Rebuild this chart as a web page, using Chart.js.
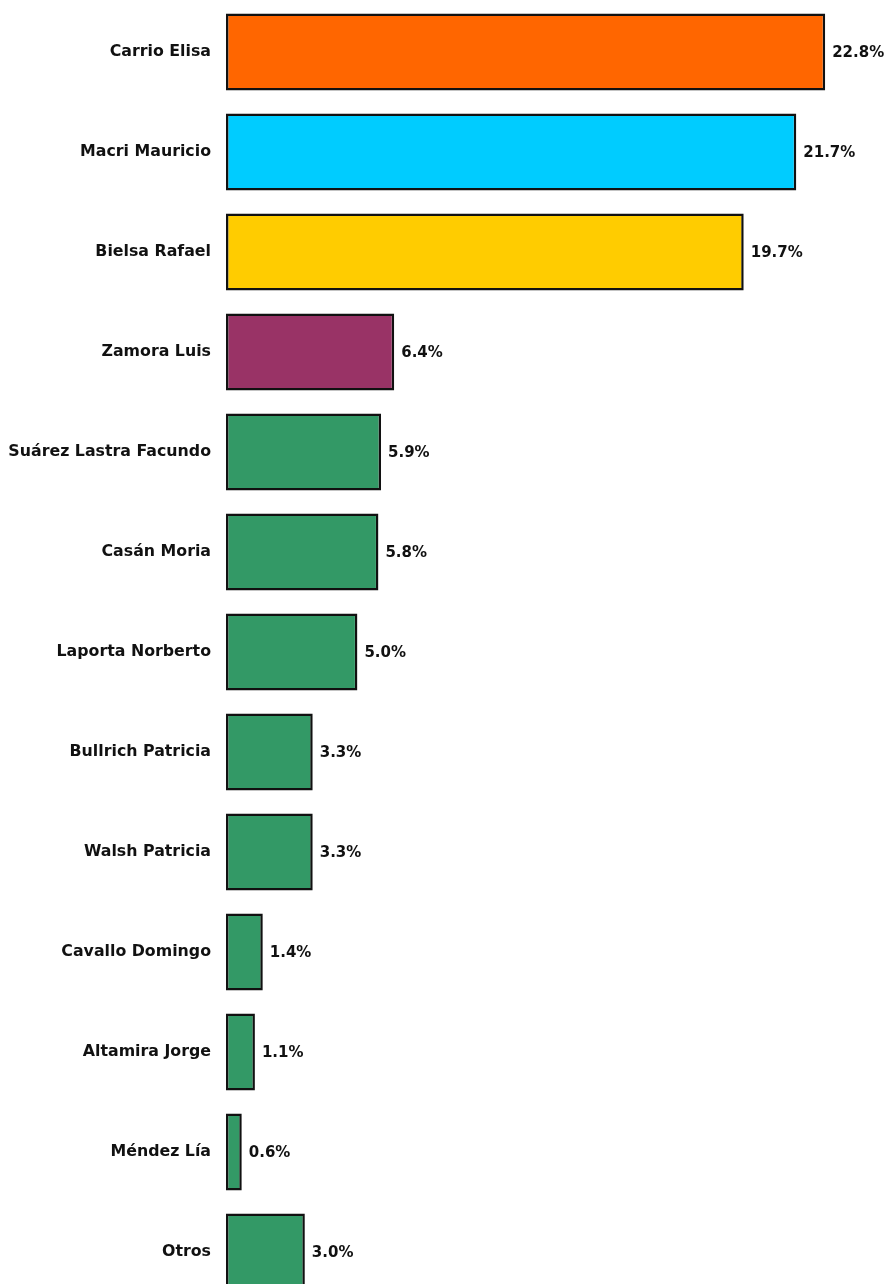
<!DOCTYPE html>
<html><head><meta charset="utf-8">
<script src="https://cdn.jsdelivr.net/npm/chart.js@4"></script>
<style>
html,body{margin:0;padding:0;background:#fff;overflow:hidden;}
canvas{display:block;}
</style></head>
<body>
<canvas id="c" width="890" height="1310" style="width:890px;height:1310px"></canvas>
<script>
const categories = ["Carrio Elisa","Macri Mauricio","Bielsa Rafael","Zamora Luis","Suárez Lastra Facundo","Casán Moria","Laporta Norberto","Bullrich Patricia","Walsh Patricia","Cavallo Domingo","Altamira Jorge","Méndez Lía","Otros"];
const values = [22.8,21.7,19.7,6.4,5.9,5.8,5.0,3.3,3.3,1.4,1.1,0.6,3.0];
const colors = ["#FF6600","#00CCFF","#FFCC00","#993366","#339966","#339966","#339966","#339966","#339966","#339966","#339966","#339966","#339966"];

const FONT = "'DejaVu Sans', Verdana, sans-serif";
const valueLabels = {
  id:'valueLabels',
  afterDatasetsDraw(chart){
    const ctx = chart.ctx;
    const meta = chart.getDatasetMeta(0);
    ctx.save();
    ctx.font = "bold 15px " + FONT;
    ctx.fillStyle = "#111";
    ctx.textBaseline = "middle";
    ctx.textAlign = "left";
    meta.data.forEach((bar,i)=>{
      ctx.fillText(values[i].toFixed(1)+"%", bar.x + 7, bar.y + 1);
    });
    ctx.restore();
  }
};

new Chart(document.getElementById('c'), {
  type:'bar',
  data:{labels:categories, datasets:[{data:values, backgroundColor:colors, borderColor:"#111", borderWidth:2.5, borderSkipped:false, barPercentage:0.77, categoryPercentage:1.0}]},
  options:{
    indexAxis:'y', responsive:false, maintainAspectRatio:false, animation:false, devicePixelRatio:1,
    layout:{padding:{top:2,bottom:8,left:0,right:7}},
    plugins:{legend:{display:false}, tooltip:{enabled:false}},
    scales:{
      x:{display:false, min:0, max:25},
      y:{
        grid:{display:false}, border:{display:false},
        ticks:{color:"#111", padding:7, font:{family:FONT, size:15.8, weight:'bold'}},
        afterFit(s){ s.width = 226; s.paddingTop = 0; s.paddingBottom = 0; }
      }
    }
  },
  plugins:[valueLabels]
});
</script>
</body></html>
